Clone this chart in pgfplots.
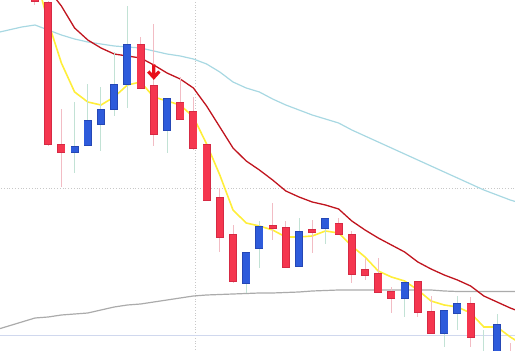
\documentclass[border=0pt]{standalone}
\usepackage{pgfplots}
\usepackage{pgfplotstable}
\pgfplotsset{compat=1.18}
\definecolor{bodyred}{HTML}{F5364F}
\definecolor{edgered}{HTML}{D62A44}
\definecolor{bodyblue}{HTML}{2E5BDB}
\definecolor{edgeblue}{HTML}{2547B5}
\definecolor{wickred}{HTML}{F2BCC4}
\definecolor{wickblue}{HTML}{C2E2D5}
\definecolor{mayellow}{HTML}{FFEE3A}
\definecolor{mared}{HTML}{C0141E}
\definecolor{mablue}{HTML}{A8D8E2}
\definecolor{magray}{HTML}{ABABAB}
\definecolor{gridgray}{HTML}{C8C8C8}
\definecolor{baseblue}{HTML}{D0D8EE}
\definecolor{arrowred}{HTML}{E8101A}
\pgfdeclareplotmark{sellarrow}{%
  \pgfpathmoveto{\pgfpoint{0pt}{7.5pt}}\pgfpathlineto{\pgfpoint{0pt}{-5pt}}%
  \pgfpathmoveto{\pgfpoint{-5.5pt}{0.5pt}}\pgfpathlineto{\pgfpoint{0pt}{-5.5pt}}\pgfpathlineto{\pgfpoint{5.5pt}{0.5pt}}%
  \pgfusepathqstroke}
\pgfplotstableread{
i o h l c
0 360 365 346 350
1 348 350 205 207
2 206 242 164 199
8 306 314 262 263
9 265 327 205 217
11 248 274 231 232
12 239 254 201 203
13 206 207 150 151
14 153 163 99 114
15 116 126 68 70
18 125 148 111 123
19 123 130 83 84
21 121 131 98 119
23 127 133 116 117
24 116 120 68 77
25 81 93 71 76
26 77 93 58 59
27 59 64 38 53
29 69 70 34 39
30 39 55 17 18
33 47 54 4 14
36 -5 8 -40 -30
}\redtab
\pgfplotstableread{
i o h l c
3 199 249 178 204
4 206 267 205 230
5 227 264 200 241
6 242 299 235 266
7 267 345 243 306
10 221 253 198 252
16 68 99 58 98
17 103 130 83 124
20 85 133 84 119
22 123 133 107 132
28 53 69 34 68
31 18 41 4 40
32 38 55 21 47
34 -30 21 -40 -5
35 -5 37 -15 26
}\bluetab
\pgfplotstableread{
i y r b g
-3 nan nan 318 21
-2 nan nan 321 25
-1 nan nan 324 29
0 377 386 326 33
1 329 362 321 34
2 288 345 316 36
3 259 323 312 37
4 249 311 309 38
5 246 303 307 41
6 254 297 305 44
7 266 295 304 46
8 269 293 303 47
9 254 286 300 49
10 250 278 297 51
11 246 272 295 53
12 234 263 292 55
13 207 245 287 56
14 176 224 279 56.5
15 141 203 269 57
16 128 190 263 57.5
17 125 181 259 58
18 121 171 252 58
19 114 160 246 58.5
20 114 154 241 59
21 115 149 236 60
22 120 146 232 60.5
23 118 142 228 61
24 105 130 221 61
25 94 121 215 61
26 80 113 209 61
27 74 106 203 61
28 70 99 197 61
29 61 89 191 61
30 50 82 185 61
31 46 76 179 60
32 44 71 173 59.5
33 38 65 167 59.5
34 24 55 161 59.5
35 24 49 156 59.5
36 14 43 151 59.5
37 6 38 147 59.5
}\matab
\pgfplotsset{candle/.style 2 args={draw=none, mark=none,
  error bars/.cd, y dir=both, y explicit, error mark=none,
  error bar style={line width=#1, draw=#2}}}
\begin{document}
\begin{tikzpicture}
\begin{axis}[
  scale only axis, width=515pt, height=351pt,
  xmin=-2.65, xmax=36.36, ymin=0, ymax=351,
  hide axis, clip=true,
]
% reference lines
\addplot[gridgray, dotted, line width=0.8pt] coordinates {(-3,163) (37,163)};
\addplot[gridgray, dotted, line width=0.8pt] coordinates {(12.12,-10) (12.12,360)};
\addplot[baseblue, line width=1pt] coordinates {(-3,15) (37,15)};
% moving averages
\addplot[magray, line width=1.2pt] table[x=i, y=g] {\matab};
\addplot[mablue, line width=1.2pt] table[x=i, y=b] {\matab};
\addplot[mared, line width=1.3pt] table[x=i, y=r] {\matab};
\addplot[mayellow, line width=1.6pt] table[x=i, y=y] {\matab};
% wicks
\addplot[candle={1pt}{wickred}]
  table[x=i, y expr=(\thisrow{h}+\thisrow{l})/2, y error expr=(\thisrow{h}-\thisrow{l})/2] {\redtab};
\addplot[candle={1pt}{wickblue}]
  table[x=i, y expr=(\thisrow{h}+\thisrow{l})/2, y error expr=(\thisrow{h}-\thisrow{l})/2] {\bluetab};
% bodies
\addplot[candle={8pt}{edgered}]
  table[x=i, y expr=(\thisrow{o}+\thisrow{c})/2, y error expr=abs(\thisrow{o}-\thisrow{c})/2+0.6] {\redtab};
\addplot[candle={6.6pt}{bodyred}]
  table[x=i, y expr=(\thisrow{o}+\thisrow{c})/2, y error expr=abs(\thisrow{o}-\thisrow{c})/2-0.1] {\redtab};
\addplot[candle={8pt}{edgeblue}]
  table[x=i, y expr=(\thisrow{o}+\thisrow{c})/2, y error expr=abs(\thisrow{o}-\thisrow{c})/2+0.6] {\bluetab};
\addplot[candle={6.6pt}{bodyblue}]
  table[x=i, y expr=(\thisrow{o}+\thisrow{c})/2, y error expr=abs(\thisrow{o}-\thisrow{c})/2-0.1] {\bluetab};
% sell signal
\addplot[only marks, mark=sellarrow, mark options={line width=3.2pt, draw=arrowred, miter limit=4}] coordinates {(9,279)};
\end{axis}
\pgfresetboundingbox
\useasboundingbox (current axis.south west) rectangle (current axis.north east);
\end{tikzpicture}
\end{document}
